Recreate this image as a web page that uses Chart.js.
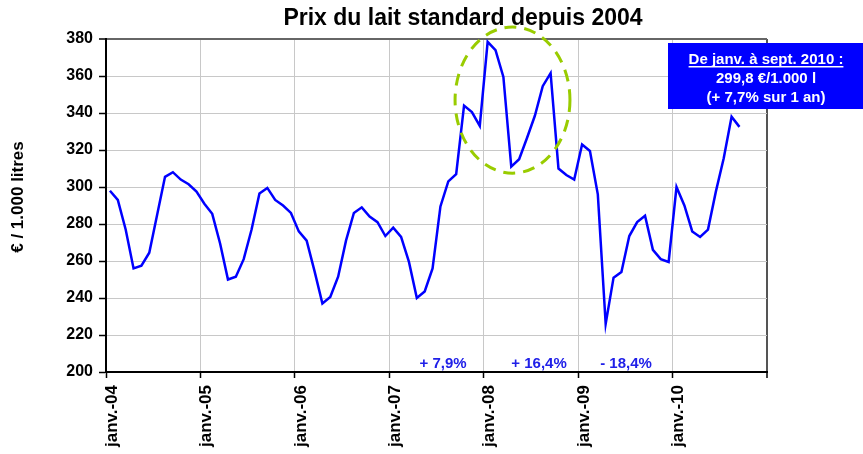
<!DOCTYPE html>
<html lang="fr">
  <head>
    <meta charset="UTF-8" />
    <title>Prix du lait standard depuis 2004</title>
    <script src="https://cdn.jsdelivr.net/npm/chart.js"></script>
    <style>
      html,
      body {
        margin: 0;
        padding: 0;
        background-color: #ffffff;
      }

      .chart {
        position: relative;
        width: 863px;
        height: 454px;
      }
    </style>
  </head>
  <body>
    <div class="chart">
      <canvas id="milkChart"></canvas>
    </div>
    <script>
      // monthly price, janv. 2004 -> sept. 2010 (EUR / 1.000 l)
      const prices = [
        298, 293, 277, 256, 257.5, 264.5, 285, 305.5, 308, 304, 301.5, 297.5,
        291, 285.5, 269.5, 250, 251.5, 261, 277, 296.5, 299.5, 293, 290, 286,
        276, 271, 254.5, 237, 240.5, 251.5, 271, 286, 289, 284, 281, 273.5,
        278, 273, 259.5, 240, 243.5, 256, 289.5, 303, 307, 344, 340.5, 333,
        378.5, 374, 359.5, 311, 315, 326.5, 338.5, 354.5, 361.5, 310, 306.5, 304,
        323, 319.5, 296, 226, 251, 254, 273.5, 281, 284.5, 266, 261, 259.5,
        300, 290, 276, 273, 277, 297.5, 315.5, 338, 332.5,
      ];
      const yearLabels = [
        "janv.-04", "janv.-05", "janv.-06", "janv.-07",
        "janv.-08", "janv.-09", "janv.-10",
      ];
      const changeLabels = ["+ 7,9%", "+ 16,4%", "- 18,4%"];
      const boxLines = [
        "De janv. à sept. 2010 :",
        "299,8 €/1.000 l",
        "(+ 7,7% sur 1 an)",
      ];
      const chartTitle = "Prix du lait standard depuis 2004";
      const yTitle = "€ / 1.000 litres";

      const FONT = "'Liberation Sans', Arial, sans-serif";
      const monthsOnAxis = 84;

      // one point in the middle of each month slot
      const points = prices.map((v, i) => ({ x: i + 0.5, y: v }));

      const extras = {
        id: "extras",
        afterDraw(chart) {
          const { ctx, chartArea, scales } = chart;
          const xs = scales.x;
          const ys = scales.y;
          ctx.save();

          // title
          ctx.fillStyle = "#000000";
          ctx.font = "bold 23px " + FONT;
          ctx.textAlign = "center";
          ctx.textBaseline = "alphabetic";
          ctx.fillText(chartTitle, 463, 25);

          // y axis title
          ctx.save();
          ctx.translate(18, 197);
          ctx.rotate(-Math.PI / 2);
          ctx.font = "bold 17px " + FONT;
          ctx.textBaseline = "middle";
          ctx.fillText(yTitle, 0, 0);
          ctx.restore();

          // dashed ellipse round the 2008 peak
          const cx = xs.getPixelForValue(51.66);
          const cy = ys.getPixelForValue(347);
          const rx = xs.getPixelForValue(51.66 + 7.3) - cx;
          const ry = cy - ys.getPixelForValue(347 + 39.5);
          ctx.strokeStyle = "#99cc00";
          ctx.lineWidth = 3;
          ctx.setLineDash([12, 8]);
          ctx.beginPath();
          ctx.ellipse(cx, cy, rx, ry, 0, 0, Math.PI * 2);
          ctx.stroke();
          ctx.setLineDash([]);

          // yearly change labels
          ctx.fillStyle = "#2020e8";
          ctx.font = "bold 15px " + FONT;
          [42.83, 55.03, 66.08].forEach((pos, i) => {
            ctx.fillText(changeLabels[i], xs.getPixelForValue(pos), chartArea.bottom - 4);
          });

          // blue info box
          ctx.fillStyle = "#0000ff";
          ctx.fillRect(668, 43, 195, 66);
          ctx.fillStyle = "#ffffff";
          ctx.font = "bold 15px " + FONT;
          boxLines.forEach((line, i) => {
            ctx.fillText(line, 766, 64 + i * 19);
          });
          const w = ctx.measureText(boxLines[0]).width;
          ctx.fillRect(766 - w / 2, 66, w, 1.5);

          ctx.restore();
        },
      };

      new Chart(document.getElementById("milkChart"), {
        type: "line",
        data: {
          datasets: [
            {
              data: points,
              borderColor: "#0000ff",
              borderWidth: 2.5,
              pointRadius: 0,
              tension: 0,
              fill: false,
            },
          ],
        },
        options: {
          responsive: true,
          maintainAspectRatio: false,
          animation: false,
          layout: { padding: { top: 39, right: 96, bottom: 0, left: 0 } },
          plugins: {
            legend: { display: false },
            title: { display: false },
            tooltip: { enabled: false },
          },
          scales: {
            x: {
              type: "linear",
              min: 0,
              max: monthsOnAxis,
              afterFit: (scale) => {
                scale.height = 82;
              },
              border: { color: "#000000", width: 2 },
              grid: {
                color: (c) => (c.tick && c.tick.value === monthsOnAxis ? "#555555" : "#c8c8c8"),
                lineWidth: (c) => (c.tick && c.tick.value === monthsOnAxis ? 2 : 1),
                tickColor: "#000000",
                tickLength: 6,
                tickWidth: 1.5,
              },
              ticks: {
                stepSize: 12,
                autoSkip: false,
                maxRotation: 90,
                minRotation: 90,
                padding: 7,
                labelOffset: 6,
                color: "#000000",
                font: { family: FONT, size: 17, weight: "bold" },
                callback: (v) => yearLabels[v / 12] || "",
              },
            },
            y: {
              min: 200,
              max: 380,
              afterFit: (scale) => {
                scale.width = 106;
              },
              border: { color: "#000000", width: 2 },
              grid: {
                color: (c) => (c.tick && c.tick.value === 380 ? "#666666" : "#c8c8c8"),
                lineWidth: (c) => (c.tick && c.tick.value === 380 ? 2 : 1),
                tickColor: "#000000",
                tickLength: 7,
                tickWidth: 1.5,
              },
              ticks: {
                stepSize: 20,
                padding: 6,
                color: "#000000",
                font: { family: FONT, size: 16, weight: "bold" },
              },
            },
          },
        },
        plugins: [extras],
      });
    </script>
  </body>
</html>
